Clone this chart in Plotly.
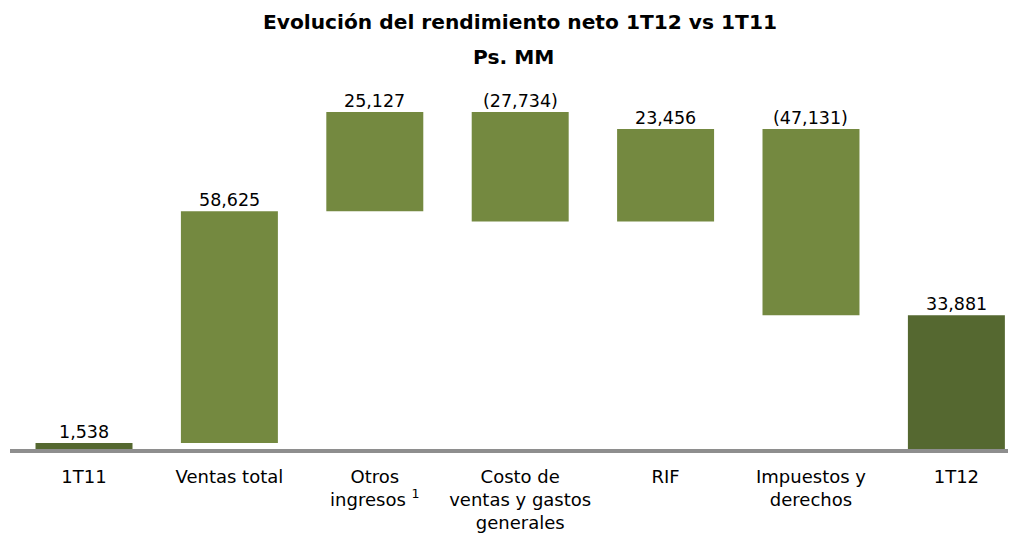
import plotly.graph_objects as go

categories = ["1T11", "Ventas total", "Otros<br>ingresos <sup>1</sup>", "Costo de<br>ventas y gastos<br>generales",
              "RIF", "Impuestos y<br>derechos", "1T12"]
values = [1538, 58625, 25127, -27734, 23456, -47131, 33881]
measures = ["absolute", "relative", "relative", "relative", "relative", "relative", "total"]
labels = ["1,538", "58,625", "25,127", "(27,734)", "23,456", "(47,131)", "33,881"]
title_line1 = "Evolución del rendimiento neto 1T12 vs 1T11"
title_line2 = "Ps. MM"

LIGHT = "#748940"
DARK = "#556830"
FONT = "DejaVu Sans"

# page has an 8px body margin; figure sized to fill the rest of the window
W, H = 1008, 528
L, R, T, B = 2, 0, 72, 87

xpos = list(range(len(categories)))

fig = go.Figure(go.Waterfall(
    x=xpos, y=values, measure=measures,
    width=0.667,
    increasing=dict(marker=dict(color=LIGHT)),
    decreasing=dict(marker=dict(color=LIGHT)),
    totals=dict(marker=dict(color=DARK)),
    connector=dict(visible=False),
    textinfo="none",
    hoverinfo="skip",
))

# label positions from cumulative values
cum = 0
tops = []
for v, m in zip(values, measures):
    if m == "absolute":
        start, cum = 0, v
    elif m == "total":
        start = 0
    else:
        start, cum = cum, cum + v
    tops.append(max(start, cum))

for x, t, l in zip(xpos, tops, labels):
    fig.add_annotation(x=x, y=t, text=l, showarrow=False, xref="x", yref="y",
                       yanchor="bottom", yshift=-1,
                       font=dict(family=FONT, size=17.5, color="black"))

plot_center = L + (W - L - R) / 2
fig.add_annotation(x=0.5, xref="paper", y=1, yref="paper", yanchor="middle", showarrow=False,
                   text="<b>" + title_line1 + "</b>", yshift=T - 14,
                   xshift=(512 - plot_center),
                   font=dict(family=FONT, size=20.2, color="black"))
fig.add_annotation(x=0.5, xref="paper", y=1, yref="paper", yanchor="middle", showarrow=False,
                   text="<b>" + title_line2 + "</b>", yshift=T - 49, xshift=(505 - plot_center),
                   font=dict(family=FONT, size=20.2, color="black"))

fig.update_layout(
    width=W, height=H,
    margin=dict(l=L, r=R, t=T, b=B),
    paper_bgcolor="white", plot_bgcolor="white",
    showlegend=False,
    font=dict(family=FONT, size=18, color="black"),
    xaxis=dict(range=[-0.509, 6.41], tickvals=xpos, ticktext=categories, showgrid=False,
               zeroline=False, showline=True, linecolor="#8e8e8e", linewidth=4, ticks="",
               ticklabelstandoff=8,
               tickfont=dict(family=FONT, size=18, color="black"), fixedrange=True),
    yaxis=dict(range=[0, 93390], visible=False, fixedrange=True),
)

fig.write_html("out.html")
